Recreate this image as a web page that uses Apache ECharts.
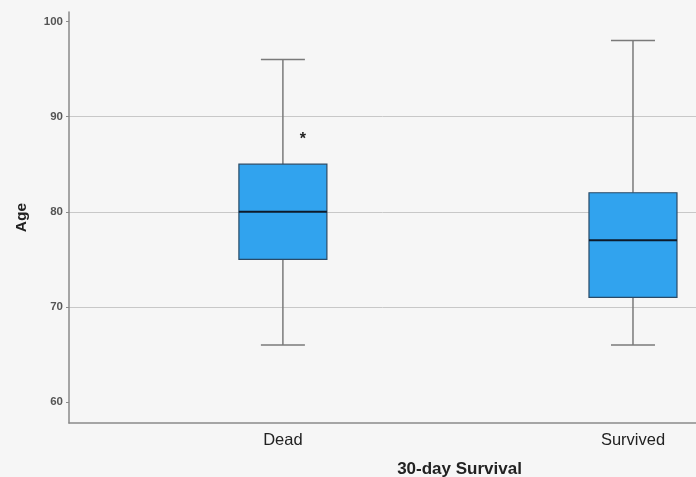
<!DOCTYPE html>
<html>
<head>
<meta charset="utf-8">
<script src="https://cdn.jsdelivr.net/npm/echarts@6/dist/echarts.min.js"></script>
<style>html,body{margin:0;padding:0;background:#f6f6f6;}#c{width:696px;height:477px;}</style>
</head>
<body>
<div id="c"></div>
<script>
const categories = ['Dead', 'Survived'];
const whiskerLow = [66, 66];
const q1 = [75, 71];
const median = [80, 77];
const q3 = [85, 82];
const whiskerHigh = [96, 98];
const outlierCategory = [0];
const outlierValue = [88];
const yTicks = [60, 70, 80, 90, 100];
const xAxisTitle = '30-day Survival';
const yAxisTitle = 'Age';

const BOX_W = 88, CAP_W = 44, STAR_DX = 20;

const boxData = categories.map((c, i) => [i + 1, whiskerLow[i], q1[i], median[i], q3[i], whiskerHigh[i]]);
const outData = outlierCategory.map((ci, k) => [ci + 1, outlierValue[k]]);

const chart = echarts.init(document.getElementById('c'), null, {renderer: 'canvas'});
chart.setOption({
  backgroundColor: '#f6f6f6',
  animation: false,
  grid: {left: 69, right: 0, top: 12, bottom: 54, containLabel: false, outerBoundsMode: 'none'},
  xAxis: {
    type: 'value', min: 0.389, max: 2.18,
    name: xAxisTitle, nameLocation: 'middle', nameGap: 38,
    nameTextStyle: {fontFamily: 'Liberation Sans', fontWeight: 'bold', fontSize: 17, color: '#222', padding: [0, 0, 0, 154]},
    axisLine: {show: true, lineStyle: {color: '#8a8a8a', width: 1.5}},
    axisTick: {show: false},
    splitLine: {show: false},
    axisLabel: {
      customValues: categories.map((c, i) => i + 1),
      formatter: v => categories[Math.round(v) - 1] || '',
      fontFamily: 'Liberation Sans', fontSize: 16.5, color: '#222', margin: 9
    }
  },
  yAxis: {
    type: 'value', min: 57.8, max: 101,
    name: yAxisTitle, nameLocation: 'middle', nameGap: 39.5,
    nameTextStyle: {fontFamily: 'Liberation Sans', fontWeight: 'bold', fontSize: 15.5, color: '#222'},
    axisLine: {show: true, lineStyle: {color: '#8a8a8a', width: 1.5}},
    axisTick: {show: true, length: 3, customValues: yTicks, lineStyle: {color: '#8a8a8a'}},
    axisLabel: {customValues: yTicks, fontFamily: 'Liberation Sans', fontWeight: 'bold', fontSize: 11.5, color: '#555', margin: 6},
    splitLine: {show: true, showMinLine: false, showMaxLine: false, lineStyle: {color: '#c8c8c8', width: 1}}
  },
  series: [{
    type: 'custom',
    data: boxData,
    encode: {x: 0, y: [1, 2, 3, 4, 5]},
    renderItem: function (params, api) {
      const x = api.value(0);
      const pLow = api.coord([x, api.value(1)]);
      const pQ1 = api.coord([x, api.value(2)]);
      const pMed = api.coord([x, api.value(3)]);
      const pQ3 = api.coord([x, api.value(4)]);
      const pHigh = api.coord([x, api.value(5)]);
      const cx = pMed[0];
      const wStyle = {stroke: '#7a7a7a', lineWidth: 1.5};
      return {
        type: 'group',
        children: [
          {type: 'line', shape: {x1: cx, y1: pHigh[1], x2: cx, y2: pQ3[1]}, style: wStyle},
          {type: 'line', shape: {x1: cx, y1: pLow[1], x2: cx, y2: pQ1[1]}, style: wStyle},
          {type: 'line', shape: {x1: cx - CAP_W / 2, y1: pHigh[1], x2: cx + CAP_W / 2, y2: pHigh[1]}, style: wStyle},
          {type: 'line', shape: {x1: cx - CAP_W / 2, y1: pLow[1], x2: cx + CAP_W / 2, y2: pLow[1]}, style: wStyle},
          {type: 'rect', shape: {x: cx - BOX_W / 2, y: pQ3[1], width: BOX_W, height: pQ1[1] - pQ3[1]},
            style: {fill: '#31a3ee', stroke: '#2a4a66', lineWidth: 1.2}},
          {type: 'line', shape: {x1: cx - BOX_W / 2, y1: pMed[1], x2: cx + BOX_W / 2, y2: pMed[1]},
            style: {stroke: '#0d1a2a', lineWidth: 2}}
        ]
      };
    }
  }, {
    type: 'custom',
    data: outData,
    encode: {x: 0, y: 1},
    renderItem: function (params, api) {
      const p = api.coord([api.value(0), api.value(1)]);
      return {
        type: 'text',
        x: p[0] + STAR_DX, y: p[1] + 4,
        style: {text: '*', fontFamily: 'Liberation Sans', fontWeight: 'bold', fontSize: 16, fill: '#222', align: 'center', verticalAlign: 'middle'}
      };
    }
  }]
});
</script>
</body>
</html>
